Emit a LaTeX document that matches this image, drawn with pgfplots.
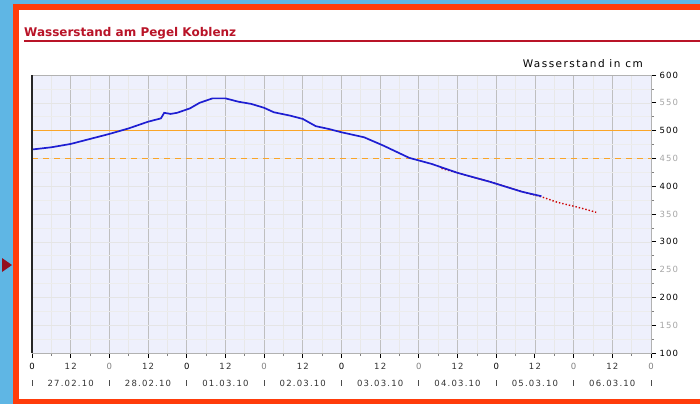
\documentclass[border=0pt]{standalone}
\usepackage{pgfplots}
\pgfplotsset{compat=1.18}
\usepackage{fontspec}
\setmainfont{DejaVu Sans}
\newfontfamily\tickfont[LetterSpace=14]{DejaVu Sans}
\definecolor{bgblue}{RGB}{95,182,228}
\definecolor{frame}{RGB}{255,60,10}
\definecolor{titlered}{RGB}{185,20,40}
\definecolor{plotbg}{RGB}{238,240,252}
\definecolor{lineblue}{RGB}{30,30,210}
\definecolor{orangeline}{RGB}{250,165,40}
\begin{document}
\begin{tikzpicture}[x=1pt,y=-1pt]
\useasboundingbox (0,0) rectangle (700,404);
\fill[bgblue] (0,0) rectangle (700,404);
\fill[frame] (13,4) rectangle (700,404);
\fill[white] (19,10) rectangle (700,399);
\fill[titlered!80!black] (2,258) -- (12,265) -- (2,272) -- cycle;
\node[anchor=base west, inner sep=0pt, text=titlered, font=\bfseries\fontsize{12}{14}\selectfont] at (24,37) {Wasserstand am Pegel Koblenz};
\draw[titlered, line width=1.3pt] (24,41) -- (700,41);
\node[anchor=base east, inner sep=0pt, font=\tickfont\fontsize{10.5}{12}\selectfont] at (643,67) {Wasserstand in cm};
\begin{axis}[
  at={(32pt,-353pt)}, anchor=south west,
  width=619pt, height=278pt, scale only axis,
  xmin=0, xmax=192, ymin=100, ymax=600,
  axis background/.style={fill=plotbg},
  axis line style={gray!60, line width=0.8pt},
  xtick={0,12,...,192},
  xticklabels={\textcolor{black}{0},12,\textcolor{gray}{0},12,\textcolor{black}{0},12,\textcolor{gray}{0},12,\textcolor{black}{0},12,\textcolor{gray}{0},12,\textcolor{black}{0},12,\textcolor{gray}{0},12,\textcolor{gray}{0}},
  minor xtick={6,18,...,186},
  ytick={100,150,...,600},
  yticklabels={\textcolor{black}{100},\textcolor{gray!70}{150},\textcolor{black}{200},\textcolor{gray!70}{250},\textcolor{black}{300},\textcolor{gray!70}{350},\textcolor{black}{400},\textcolor{gray!70}{450},\textcolor{black}{500},\textcolor{gray!70}{550},\textcolor{black}{600}},
  minor ytick={125,175,...,575},
  xtick pos=left, ytick pos=right, yticklabel pos=right,
  tick align=outside,
  major tick length=5pt, minor tick length=3pt,
  major tick style={black, line width=0.9pt},
  minor tick style={gray, line width=0.7pt},
  xmajorgrids, xminorgrids, ymajorgrids, yminorgrids,
  major x grid style={gray!50, line width=0.8pt},
  minor x grid style={gray!18, line width=0.7pt},
  major y grid style={gray!20, line width=0.6pt},
  minor y grid style={gray!15, line width=0.6pt},
  ticklabel style={font=\tickfont\fontsize{8.5}{10}\selectfont, text=black!80},
  xticklabel style={yshift=-2pt},
  clip=false,
]
\addplot[orangeline, line width=1.2pt, forget plot] coordinates {(0,500) (192,500)};
\addplot[orangeline, line width=1.8pt, dash pattern=on 6pt off 5pt, forget plot] coordinates {(0,450) (192,450)};
\addplot[red!80!black, line width=1.4pt, dotted, forget plot] coordinates {
(127,432) (132,424) (142,408) (152,390) (158,381) (163,371) (168,364) (172,358) (175,353)};
\addplot[lineblue, line width=1.7pt] coordinates {
(0,466) (6,470) (12,476) (18,485) (24,494) (30,504) (36,516) (40,522) (41,532) (43,530) (45,532) (49,540) (52,550) (56,558) (60,558) (64,552) (68,548) (72,541) (75,533) (80,527) (84,521) (88,508) (92,503) (96,497) (103,488) (109,473) (117,451) (124,440) (132,424) (142,408) (152,390) (158,382)};
\draw[black!85, line width=1.4pt] (axis cs:0,100) -- (axis cs:0,600);
\node[font=\tickfont\fontsize{8.5}{10}\selectfont, text=black!80, yshift=-30pt] at (axis cs:12,100) {27.02.10};
\node[font=\tickfont\fontsize{8.5}{10}\selectfont, text=black!80, yshift=-30pt] at (axis cs:36,100) {28.02.10};
\node[font=\tickfont\fontsize{8.5}{10}\selectfont, text=black!80, yshift=-30pt] at (axis cs:60,100) {01.03.10};
\node[font=\tickfont\fontsize{8.5}{10}\selectfont, text=black!80, yshift=-30pt] at (axis cs:84,100) {02.03.10};
\node[font=\tickfont\fontsize{8.5}{10}\selectfont, text=black!80, yshift=-30pt] at (axis cs:108,100) {03.03.10};
\node[font=\tickfont\fontsize{8.5}{10}\selectfont, text=black!80, yshift=-30pt] at (axis cs:132,100) {04.03.10};
\node[font=\tickfont\fontsize{8.5}{10}\selectfont, text=black!80, yshift=-30pt] at (axis cs:156,100) {05.03.10};
\node[font=\tickfont\fontsize{8.5}{10}\selectfont, text=black!80, yshift=-30pt] at (axis cs:180,100) {06.03.10};
\pgfplotsinvokeforeach{0,24,48,72,96,120,144,168,192}{
  \draw[black!70, line width=0.8pt] ([yshift=-27pt]axis cs:#1,100) -- ([yshift=-33pt]axis cs:#1,100);
}
\end{axis}
\end{tikzpicture}
\end{document}
